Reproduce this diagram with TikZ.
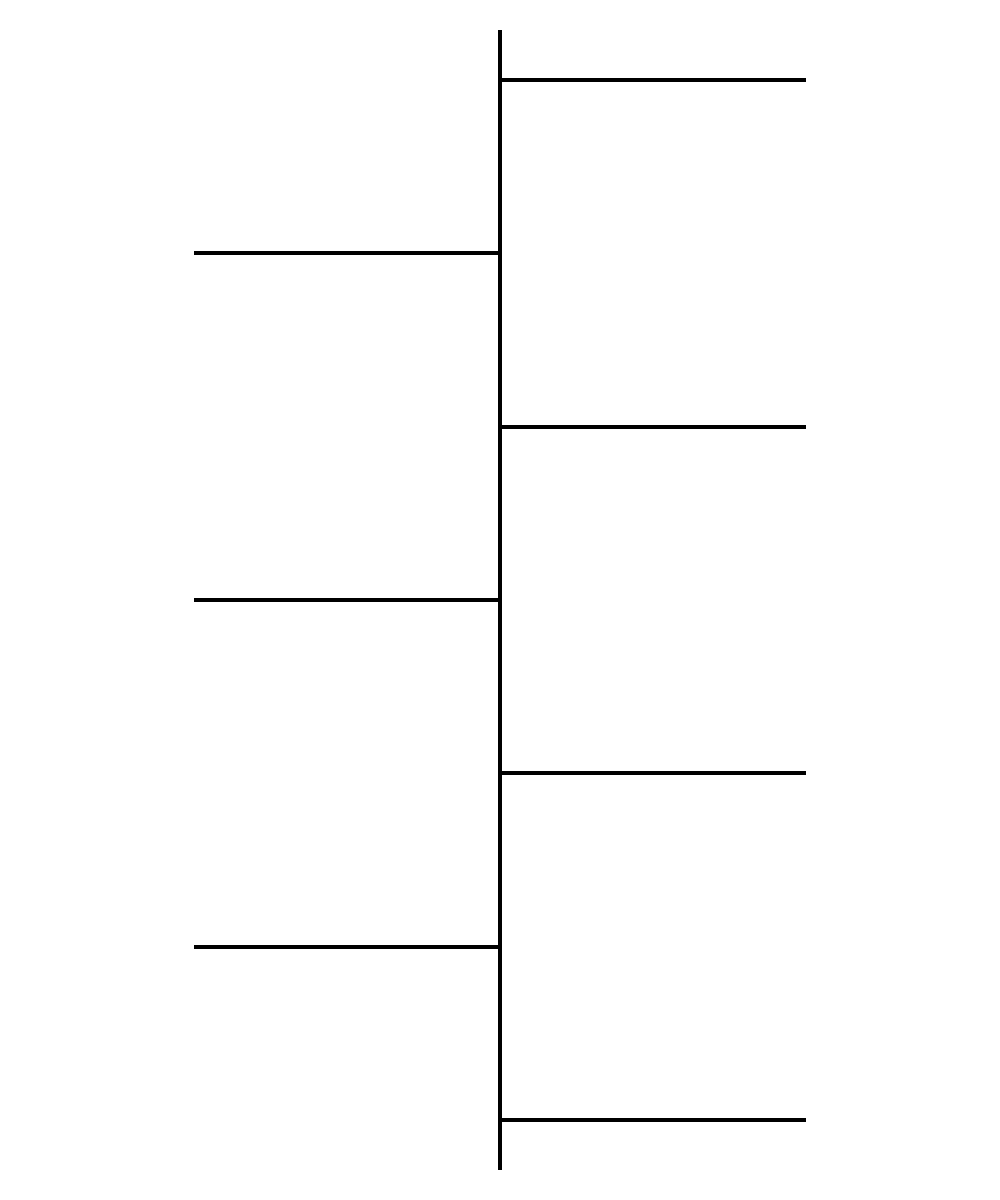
\documentclass[tikz,border=0pt]{standalone}
\usepackage{tikz}

\begin{document}
\begin{tikzpicture}[x=0.01cm,y=-0.01cm,line width=1.15pt]
\useasboundingbox (0,0) rectangle (1000,1200);
\coordinate (top) at (500,30);
\coordinate (bottom) at (500,1170);
\draw (top) -- (bottom);

% branches to the right
\foreach \y/\n in {80/r1, 427/r2, 773/r3, 1120/r4}
    \draw (500,\y) coordinate (\n) -- (806,\y);

% branches to the left
\foreach \y/\n in {253/l1, 600/l2, 947/l3}
    \draw (500,\y) coordinate (\n) -- (194,\y);
\end{tikzpicture}
\end{document}
